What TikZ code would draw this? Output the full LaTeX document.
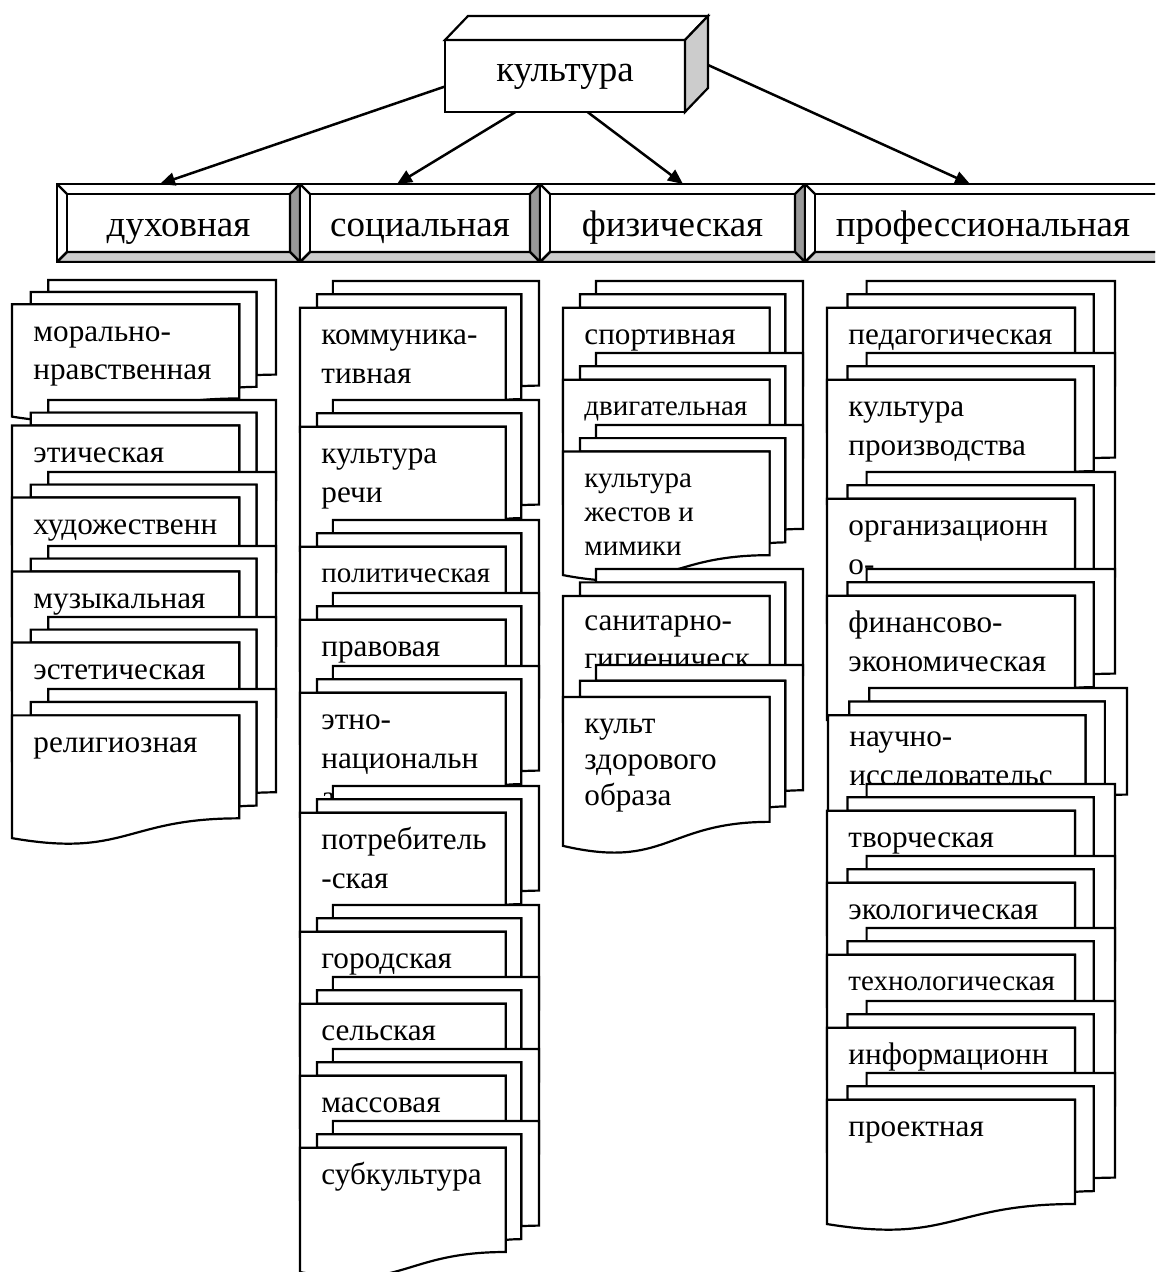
\documentclass[tikz,border=0pt]{standalone}
\usepackage{fontspec}
\setmainfont{Liberation Serif}
\usetikzlibrary{arrows.meta}
\usetikzlibrary{positioning}
\usetikzlibrary{calc}
\tikzstyle{page}=[draw,fill=white,line width=1.1pt]
\tikzstyle{tx}=[anchor=base west,inner sep=0pt,font=\fontsize{15.6}{19.4}\selectfont]
\tikzstyle{txs}=[tx,font=\fontsize{14.5}{17}\selectfont,yshift=0.5pt]
\tikzstyle{txn}=[tx,font=\fontsize{15.6}{18}\selectfont]
\tikzstyle{link}=[line width=1.25pt,-{Triangle[length=7.5pt,width=6.5pt]}]
\tikzstyle{bevel}=[draw,line width=1.1pt,minimum height=39pt,inner sep=0pt,outer sep=0pt,
  text height=18pt,text depth=4pt,font=\fontsize{18.5}{22}\selectfont,
  path picture={
    \path (path picture bounding box.north west) coordinate (nw)
          (path picture bounding box.south east) coordinate (se);
    \draw[line width=1.1pt,fill=black!40] (se|-nw) -- ++(-10,10) -- ($(se)+(-10,-10)$) -- (se) -- cycle;
    \draw[line width=1.1pt,fill=black!20] (se) -- ++(-10,-10) -- ($(nw|-se)+(10,-10)$) -- (nw|-se) -- cycle;
    \draw[line width=1.1pt] ($(nw)+(10,10)$) rectangle ($(se)+(-10,-10)$);
    \draw[line width=1.1pt] (nw) -- ++(10,10) (nw|-se) -- ++(10,-10);
  }]

% stack of three pages: [text style]{name}{x}{y}{w}{h}{text}
\newcommand{\mdoc}[7][tx]{%
  \begin{scope}[shift={(#3,#4)},xscale=#5/216,yscale=#6/216]
    \draw[page] (29.72,18.15) -- (29.72,0) -- (216,0) -- (216,143.92)
      .. controls (208,143.92) and (200,144.67) .. (200,144.67) -- (200,18.15) -- cycle;
    \draw[page] (15.32,36.75) -- (15.32,18.15) -- (200,18.15) -- (200,162.52)
      .. controls (192.98,162.52) and (185.95,163.52) .. (185.95,163.52) -- (185.95,36.75) -- cycle;
    \draw[page] (0,207.82) .. controls (92.98,235.42) and (92.98,180.22) .. (185.95,180.22)
      -- (185.95,36.75) -- (0,36.75) -- cycle;
  \end{scope}
  \node[#1] (#2) at ({#3+21},{#4+0.17*#6+37}) {\begin{tabular}[t]{@{}l@{}}#7\end{tabular}};
}

\begin{document}
\begin{tikzpicture}[x=0.5pt,y=-0.5pt]
\useasboundingbox (0,0) rectangle (1155,1272);
\clip (0,0) rectangle (1155,1272);

% top box
\node[draw,fill=white,line width=1.1pt,outer sep=0pt,minimum width=120pt,minimum height=36pt,
  text height=10pt,text depth=4pt,font=\fontsize{18.5}{22}\selectfont] (kult) at (565,76) {культура};
\draw[line width=1.1pt,fill=white] (kult.north west) -- ++(23,-24) -- ++(240,0) -- (kult.north east) -- cycle;
\draw[line width=1.1pt,fill=black!20] (kult.north east) -- ++(23,-24) -- ++(0,72) -- (kult.south east) -- cycle;
\coordinate (kback) at ($(kult.east)+(23,-11)$);

% kinds
\node[bevel,minimum width=121.5pt] (duh) at (178.5,223) {духовная};
\node[bevel,minimum width=120pt,right=0pt of duh] (soc) {социальная};
\node[bevel,minimum width=132.5pt,right=0pt of soc] (fiz) {физическая};
\node[bevel,minimum width=190pt,right=0pt of fiz] (prof) {профессиональная\kern12pt};

\draw[link] (kult.185.7) -- ([xshift=-9.25pt]duh.north);
\draw[link] (kult.216.3) -- ([xshift=-11.5pt]soc.north);
\draw[link] (kult.302.6) -- ([xshift=5.25pt]fiz.north);
\draw[link] (kback) -- ([xshift=-12.5pt]prof.north);

% dukhovnaya
\mdoc{moral}{12}{280}{264}{142}{морально-\\нравственная}
\mdoc{etich}{12}{400}{264}{150}{этическая}
\mdoc{hud}{12}{472}{264}{150}{художественн}
\mdoc{muz}{12}{546}{264}{150}{музыкальная}
\mdoc{estet}{12}{617}{264}{150}{эстетическая}
\mdoc{relig}{12}{689}{264}{155}{религиозная}

% sotsialnaya
\mdoc{komm}{300}{281}{239}{157}{коммуника-\\тивная}
\mdoc{rech}{300}{400}{239}{157}{культура\\речи}
\mdoc[txs]{polit}{300}{520}{239}{157}{политическая}
\mdoc{prav}{300}{593}{239}{157}{правовая}
\mdoc{etno}{300}{666}{239}{157}{этно-\\национальн\\ая}
\mdoc{potr}{300}{786}{239}{157}{потребитель\\-ская}
\mdoc{gor}{300}{905}{239}{157}{городская}
\mdoc{sel}{300}{977}{239}{157}{сельская}
\mdoc{mass}{300}{1049}{239}{157}{массовая}
\mdoc{subk}{300}{1121}{239}{157}{субкультура}

% fizicheskaya
\mdoc{sport}{563}{281}{240}{157}{спортивная}
\mdoc[txs]{dvig}{563}{353}{240}{157}{двигательная}
\mdoc[txs]{zhest}{563}{425}{240}{156}{культура\\жестов и\\мимики}
\mdoc[tx,yshift=1.5pt]{sanit}{563}{569}{240}{159}{санитарно-\\гигиеническ}
\mdoc[txn]{zdor}{563}{665}{240}{188}{культ\\здорового\\образа}

% professionalnaya
\mdoc{ped}{827}{281}{288}{157}{педагогическая}
\mdoc{proizv}{827}{353}{288}{157}{культура\\производства}
\mdoc{org}{827}{472}{288}{157}{организационн\\о-}
\mdoc{fin}{827}{569}{288}{157}{финансово-\\экономическая}
\mdoc[tx,yshift=3pt]{nauch}{828}{688}{299}{160}{научно-\\исследовательс}
\mdoc{tvor}{827}{784}{288}{157}{творческая}
\mdoc{ekol}{827}{856}{288}{157}{экологическая}
\mdoc[txs]{tehn}{827}{928}{288}{157}{технологическая}
\mdoc{inf}{827}{1001}{288}{157}{информационн}
\mdoc{proekt}{827}{1073}{288}{157}{проектная}
\end{tikzpicture}
\end{document}
